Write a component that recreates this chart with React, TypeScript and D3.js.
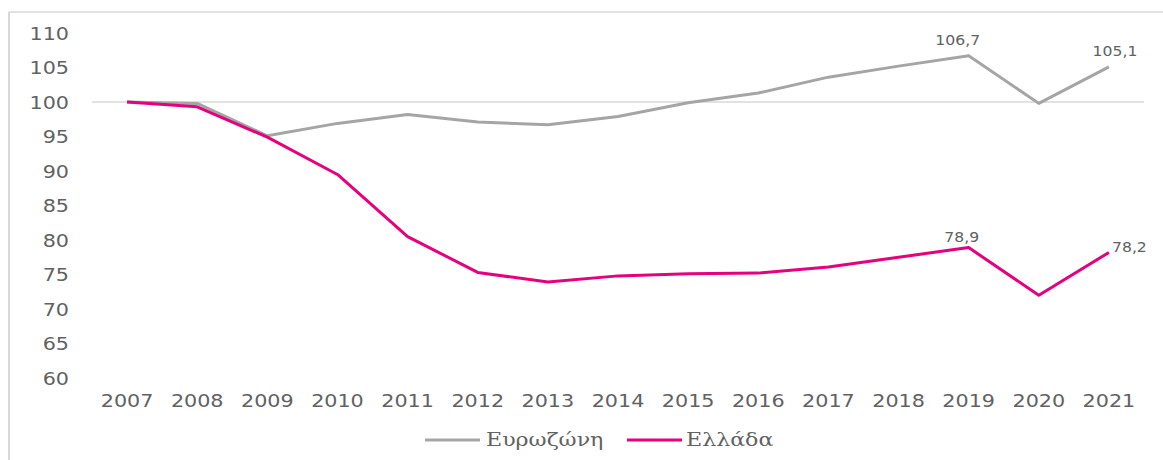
import React from "react";
import * as d3 from "d3";

const years = ["2007", "2008", "2009", "2010", "2011", "2012", "2013", "2014", "2015", "2016", "2017", "2018", "2019", "2020", "2021"];
const eurozone = [100, 99.8, 95.1, 96.9, 98.2, 97.1, 96.7, 97.9, 99.9, 101.3, 103.6, 105.2, 106.7, 99.8, 105.1];
const greece = [100, 99.3, 94.9, 89.5, 80.5, 75.3, 73.9, 74.8, 75.1, 75.2, 76.1, 77.5, 78.9, 72.0, 78.2];
const yTicks = [60, 65, 70, 75, 80, 85, 90, 95, 100, 105, 110];
const seriesNames = ["Ευρωζώνη", "Ελλάδα"];

const W = 1163;
const H = 460;
const GREY = "#a5a5a5";
const PINK = "#e6007e";
const TXT = "#626262";
const SANS = "DejaVu Sans, sans-serif";
const SERIF = "DejaVu Serif, serif";

// stretched text, the source picture is a bit wider than tall
const Txt = ({ x, y, sx = 1.15, anchor = "middle", size = 18, family = SANS, children }: any) => (
  <g transform={`translate(${x},${y}) scale(${sx},1)`}>
    <text textAnchor={anchor} fontSize={size} fontFamily={family} fill={TXT}>
      {children}
    </text>
  </g>
);

export default function App() {
  const x = d3.scaleBand().domain(years).range([92, 1144]);
  const cx = (yr: string) => (x(yr) as number) + x.bandwidth() / 2;
  const y = d3.scaleLinear().domain([60, 110]).range([378, 33]);

  const line = d3
    .line<number>()
    .x((_, i) => cx(years[i]))
    .y((d) => y(d));

  const i19 = years.indexOf("2019");
  const i21 = years.indexOf("2021");
  const fmt = (v: number) => v.toFixed(1).replace(".", ",");

  return (
    <svg width={W} height={H} style={{ position: "absolute", left: 0, top: 0, background: "#fff" }}>
      {/* chart frame (only top and left edges are visible) */}
      <line x1={9} x2={W} y1={12} y2={12} stroke="#d9d9d9" strokeWidth={1.5} />
      <line x1={9} x2={9} y1={12} y2={H} stroke="#d9d9d9" strokeWidth={2} />

      {/* category axis crosses at 100 */}
      <line x1={92} x2={1144} y1={y(100)} y2={y(100)} stroke="#d9d9d9" strokeWidth={1.5} />

      {yTicks.map((t) => (
        <Txt key={t} x={69} y={y(t) + 6.5} anchor="end">
          {t}
        </Txt>
      ))}
      {years.map((yr) => (
        <Txt key={yr} x={cx(yr)} y={407}>
          {yr}
        </Txt>
      ))}

      <path d={line(eurozone) as string} fill="none" stroke={GREY} strokeWidth={3} strokeLinejoin="round" />
      <path d={line(greece) as string} fill="none" stroke={PINK} strokeWidth={3} strokeLinejoin="round" />

      {/* data labels */}
      <Txt x={cx(years[i19]) - 11} y={y(eurozone[i19]) - 11} size={14} sx={1.12}>
        {fmt(eurozone[i19])}
      </Txt>
      <Txt x={cx(years[i21]) + 6} y={y(eurozone[i21]) - 11} size={14} sx={1.12}>
        {fmt(eurozone[i21])}
      </Txt>
      <Txt x={cx(years[i19]) - 7} y={y(greece[i19]) - 6} size={14} sx={1.12}>
        {fmt(greece[i19])}
      </Txt>
      <Txt x={cx(years[i21]) + 3} y={y(greece[i21])} size={14} sx={1.12} anchor="start">
        {fmt(greece[i21])}
      </Txt>

      {/* legend */}
      <line x1={425} x2={480} y1={440} y2={440} stroke={GREY} strokeWidth={3} />
      <Txt x={486} y={446} anchor="start" size={18} family={SERIF} sx={1.23}>
        {seriesNames[0]}
      </Txt>
      <line x1={627} x2={682} y1={440} y2={440} stroke={PINK} strokeWidth={3} />
      <Txt x={686} y={446} anchor="start" size={18} family={SERIF} sx={1.23}>
        {seriesNames[1]}
      </Txt>
    </svg>
  );
}
